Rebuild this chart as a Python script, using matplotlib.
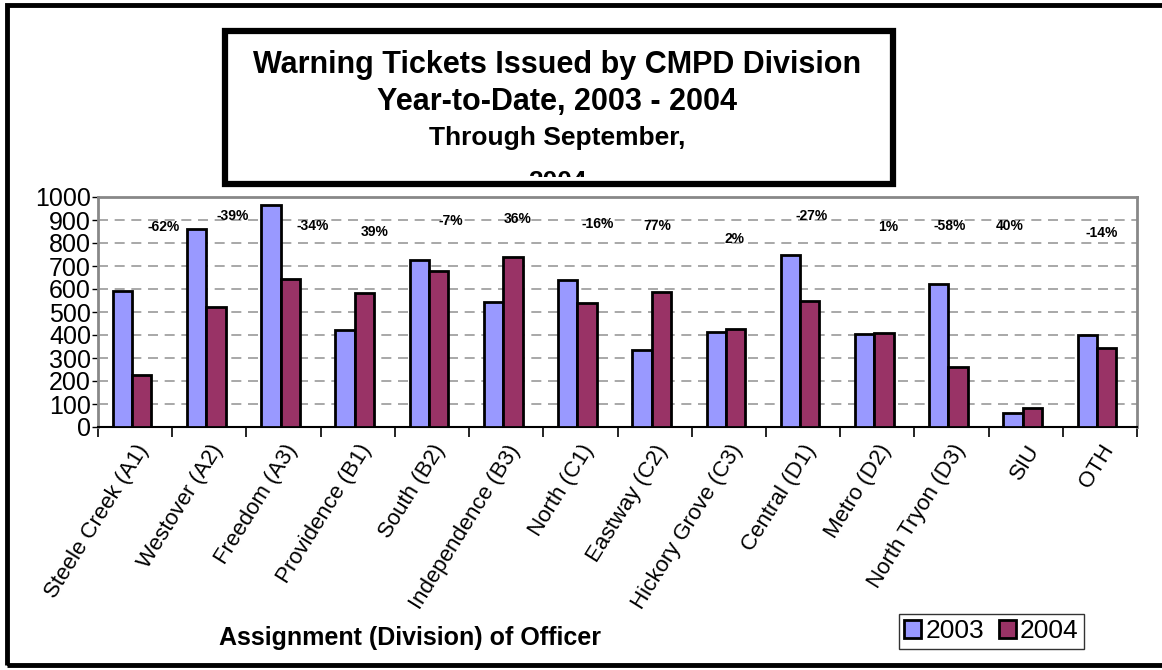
import numpy as np
import matplotlib
matplotlib.use("Agg")
import matplotlib.pyplot as plt
from matplotlib.patches import Rectangle

plt.rcParams['font.family'] = ['Liberation Sans', 'DejaVu Sans']

divisions = ['Steele Creek (A1)', 'Westover (A2)', 'Freedom (A3)', 'Providence (B1)',
             'South (B2)', 'Independence (B3)', 'North (C1)', 'Eastway (C2)',
             'Hickory Grove (C3)', 'Central (D1)', 'Metro (D2)', 'North Tryon (D3)',
             'SIU', 'OTH']
tickets_2003 = [593, 860, 967, 420, 727, 542, 640, 333, 414, 749, 403, 621, 59, 398]
tickets_2004 = [228, 522, 642, 584, 680, 740, 539, 589, 424, 548, 408, 260, 83, 343]
pct_labels = ['-62%', '-39%', '-34%', '39%', '-7%', '36%', '-16%', '77%', '2%',
              '-27%', '1%', '-58%', '40%', '-14%']
# where the percent labels sit (value height, offset from category centre)
pct_y = [869, 919, 872, 850, 894, 904, 882, 872, 817, 916, 869, 872, 876, 843]
pct_dx = [0.38, 0.31, 0.39, 0.23, 0.26, 0.15, 0.23, 0.04, 0.08, 0.12, 0.15, -0.03, -0.22, 0.03]

c2003 = '#9999FF'
c2004 = '#993366'
W, H = 1162, 670

fig = plt.figure(figsize=(W / 100, H / 100), dpi=100)
ax = fig.add_axes([98 / W, 1 - 427 / H, (1137 - 98) / W, (427 - 197) / H])

x = np.arange(len(divisions))
bw = 0.26
ax.bar(x - bw / 2 - 0.04, tickets_2003, bw, color=c2003, edgecolor='black', linewidth=2, label='2003', zorder=3)
ax.bar(x + bw / 2 - 0.04, tickets_2004, bw, color=c2004, edgecolor='black', linewidth=2, label='2004', zorder=3)

for i, lab in enumerate(pct_labels):
    ax.text(x[i] + pct_dx[i], pct_y[i], lab, ha='center', va='center',
            fontsize=10, fontweight='bold', zorder=4)

ax.set_xlim(-0.5, len(divisions) - 0.5)
ax.set_ylim(0, 1000)
ax.set_yticks(range(0, 1001, 100))
ax.tick_params(axis='y', labelsize=18, length=4, width=1, direction='out', pad=1)
ax.set_xticks(x)
ax.set_xticklabels(divisions, rotation=58, ha='right', rotation_mode='anchor', fontsize=16)
ax.tick_params(axis='x', which='major', length=0, pad=10)
ax.set_xticks(np.arange(-0.5, len(divisions), 1), minor=True)
ax.tick_params(axis='x', which='minor', length=7, width=1.2, direction='out')

ax.grid(axis='y', color='#999999', linestyle=(0, (6, 4)), linewidth=1.2, zorder=0)
for s in ['top', 'right', 'left']:
    ax.spines[s].set_color('#888888')
    ax.spines[s].set_linewidth(2)
ax.spines['bottom'].set_color('black')
ax.spines['bottom'].set_linewidth(1.5)

leg = ax.legend(loc='upper left', bbox_to_anchor=(899 / W, 1 - 614 / H), bbox_transform=fig.transFigure,
                ncol=2, fontsize=19, frameon=True, fancybox=False, handlelength=0.65, handleheight=0.65,
                handletextpad=0.15, columnspacing=0.55, borderpad=0.2, borderaxespad=0)
leg.get_frame().set_edgecolor('black')
leg.get_frame().set_linewidth(1)

fig.text(410 / W, 1 - 638 / H, 'Assignment (Division) of Officer', ha='center', va='center',
         fontsize=18, fontweight='bold')

# title box
box = Rectangle((225 / W, 1 - 184 / H), (893 - 225) / W, (184 - 31) / H, transform=fig.transFigure,
                facecolor='white', edgecolor='black', linewidth=4.5, zorder=5)
fig.add_artist(box)
fig.text(557 / W, 1 - 65 / H, 'Warning Tickets Issued by CMPD Division', ha='center', va='center',
         fontsize=22, fontweight='bold', zorder=6)
fig.text(557 / W, 1 - 102 / H, 'Year-to-Date, 2003 - 2004', ha='center', va='center',
         fontsize=22, fontweight='bold', zorder=6)
fig.text(557 / W, 1 - 138 / H, 'Through September,', ha='center', va='center',
         fontsize=19, fontweight='bold', zorder=6)
t = fig.text(557 / W, 1 - 182 / H, '2004', ha='center', va='center',
             fontsize=19, fontweight='bold', zorder=6)
clip = Rectangle((225 / W, 1 - 177 / H), (893 - 225) / W, (177 - 31) / H, transform=fig.transFigure)
t.set_clip_path(clip)

# outer frame (right side runs off the picture)
fig.add_artist(Rectangle((7 / W, 5 / H), (W + 10) / W, (H - 10) / H, transform=fig.transFigure,
                         fill=False, edgecolor='black', linewidth=3.5, zorder=7))

fig.savefig('out.png', dpi=100)
